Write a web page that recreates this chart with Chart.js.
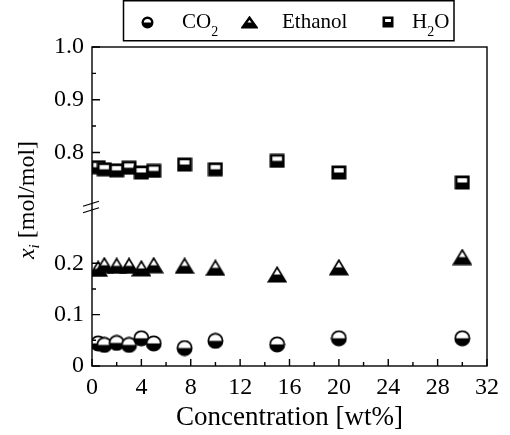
<!DOCTYPE html>
<html lang="en">
<head>
    <meta charset="UTF-8">
    <title>Mole fractions vs concentration</title>
    <script src="https://cdn.jsdelivr.net/npm/chart.js"></script>
    <style>
        body { margin: 0; background: #fff; }
        #chart { display: block; }
    </style>
</head>
<body>
<canvas id="chart" width="510" height="435"></canvas>
<script>
    // values
    const concentration = [0.5, 1, 2, 3, 4, 5, 7.5, 10, 15, 20, 30];
    const co2 = [0.044, 0.041, 0.045, 0.041, 0.054, 0.044, 0.035, 0.049, 0.042, 0.054, 0.054];
    const ethanol = [0.189, 0.196, 0.195, 0.195, 0.190, 0.196, 0.195, 0.191, 0.178, 0.192, 0.212];
    const water = [0.772, 0.768, 0.766, 0.771, 0.762, 0.765, 0.777, 0.768, 0.784, 0.762, 0.743];

    const xTicks = [0, 4, 8, 12, 16, 20, 24, 28, 32];
    const xMinor = [2, 6, 10, 14, 18, 22, 26, 30];
    const yLowTicks = [0, 0.1, 0.2];
    const yLowLabels = ['0', '0.1', '0.2'];
    const yLowMinor = [0.05, 0.15];
    const yHighTicks = [0.8, 0.9, 1.0];
    const yHighLabels = ['0.8', '0.9', '1.0'];
    const yHighMinor = [0.85, 0.95];

    const serif = '"Liberation Serif", "Times New Roman", serif';

    // half filled markers (white top, black bottom)
    function makeMarker(kind, w, h, lw) {
        const c = document.createElement('canvas');
        c.width = w;
        c.height = h;
        const g = c.getContext('2d');
        const m = lw / 2 + 0.5;
        g.beginPath();
        if (kind === 'circle') {
            g.arc(w / 2, h / 2, Math.min(w, h) / 2 - m, 0, Math.PI * 2);
        } else if (kind === 'triangle') {
            g.moveTo(w / 2, m);
            g.lineTo(w - m, h - m);
            g.lineTo(m, h - m);
            g.closePath();
        } else {
            g.rect(m, m, w - 2 * m, h - 2 * m);
        }
        g.fillStyle = '#fff';
        g.fill();
        g.save();
        g.clip();
        g.fillStyle = '#000';
        g.fillRect(0, h / 2, w, h / 2);
        g.restore();
        g.lineWidth = lw;
        g.lineJoin = 'miter';
        g.strokeStyle = '#000';
        g.stroke();
        return c;
    }

    const circleImg = makeMarker('circle', 17, 17, 1.8);
    const triangleImg = makeMarker('triangle', 20, 17, 1.8);
    const squareImg = makeMarker('square', 16, 15, 2.7);

    const legendItems = [
        { img: makeMarker('circle', 13, 13, 2.4), cx: 147, text: 'CO', sub: '2', after: '', tx: 182 },
        { img: makeMarker('triangle', 17, 13, 2.4), cx: 249, text: 'Ethanol', sub: '', after: '', tx: 282 },
        { img: makeMarker('square', 12, 12, 2.6), cx: 388, text: 'H', sub: '2', after: 'O', tx: 412 }
    ];

    const framePlugin = {
        id: 'frame',
        afterDraw(chart) {
            const ctx = chart.ctx;
            const a = chart.chartArea;
            const sx = chart.scales.x, yl = chart.scales.yBot, yh = chart.scales.yTop;
            ctx.save();
            ctx.strokeStyle = '#000';
            ctx.lineWidth = 1.4;
            ctx.strokeRect(a.left, a.top, a.right - a.left, a.bottom - a.top);

            // inward ticks
            ctx.beginPath();
            xTicks.forEach(v => { const p = sx.getPixelForValue(v); ctx.moveTo(p, a.bottom); ctx.lineTo(p, a.bottom - 7); });
            xMinor.forEach(v => { const p = sx.getPixelForValue(v); ctx.moveTo(p, a.bottom); ctx.lineTo(p, a.bottom - 4); });
            yLowTicks.forEach(v => { const p = yl.getPixelForValue(v); ctx.moveTo(a.left, p); ctx.lineTo(a.left + 8, p); });
            yLowMinor.forEach(v => { const p = yl.getPixelForValue(v); ctx.moveTo(a.left, p); ctx.lineTo(a.left + 4, p); });
            yHighTicks.forEach(v => { const p = yh.getPixelForValue(v); ctx.moveTo(a.left, p); ctx.lineTo(a.left + 8, p); });
            yHighMinor.forEach(v => { const p = yh.getPixelForValue(v); ctx.moveTo(a.left, p); ctx.lineTo(a.left + 4, p); });
            ctx.stroke();

            // axis break marks
            const b = yh.bottom;
            ctx.lineWidth = 1.3;
            ctx.beginPath();
            ctx.moveTo(a.left - 9, b - 1);
            ctx.lineTo(a.left + 7, b - 6);
            ctx.moveTo(a.left - 9, b + 5.5);
            ctx.lineTo(a.left + 7, b + 0.5);
            ctx.stroke();

            // y title: x_i [mol/mol]
            ctx.fillStyle = '#000';
            ctx.textBaseline = 'alphabetic';
            ctx.translate(34, 200);
            ctx.rotate(-Math.PI / 2);
            const fMain = 'italic 24px ' + serif, fSub = 'italic 15px ' + serif, fRest = '24px ' + serif;
            ctx.font = fMain; const wx = ctx.measureText('x').width;
            ctx.font = fSub; const wi = ctx.measureText('i').width;
            ctx.font = fRest; const wr = ctx.measureText(' [mol/mol]').width;
            let s = -(wx + wi + wr) / 2;
            ctx.font = fMain; ctx.fillText('x', s, 0);
            ctx.font = fSub; ctx.fillText('i', s + wx, 5);
            ctx.font = fRest; ctx.fillText(' [mol/mol]', s + wx + wi, 0);
            ctx.restore();

            // legend box
            ctx.save();
            ctx.strokeStyle = '#000';
            ctx.lineWidth = 1.5;
            ctx.strokeRect(123.5, 0.75, 330.5, 40);
            ctx.fillStyle = '#000';
            ctx.textBaseline = 'alphabetic';
            legendItems.forEach(it => {
                ctx.drawImage(it.img, Math.round(it.cx - it.img.width / 2), Math.round(22 - it.img.height / 2));
                ctx.font = '21px ' + serif;
                ctx.fillText(it.text, it.tx, 28);
                let x = it.tx + ctx.measureText(it.text).width;
                if (it.sub) {
                    ctx.font = '14px ' + serif;
                    ctx.fillText(it.sub, x, 36);
                    x += ctx.measureText(it.sub).width;
                }
                if (it.after) {
                    ctx.font = '21px ' + serif;
                    ctx.fillText(it.after, x, 28);
                }
            });
            ctx.restore();
        }
    };

    const tickFont = { family: serif, size: 24 };

    new Chart(document.getElementById('chart'), {
        type: 'scatter',
        data: {
            datasets: [
                {
                    label: 'CO2',
                    data: concentration.map((c, i) => ({ x: c, y: co2[i] })),
                    yAxisID: 'yBot',
                    pointStyle: circleImg,
                    pointRadius: 8
                },
                {
                    label: 'Ethanol',
                    data: concentration.map((c, i) => ({ x: c, y: ethanol[i] })),
                    yAxisID: 'yBot',
                    pointStyle: triangleImg,
                    pointRadius: 8
                },
                {
                    label: 'H2O',
                    data: concentration.map((c, i) => ({ x: c, y: water[i] })),
                    yAxisID: 'yTop',
                    pointStyle: squareImg,
                    pointRadius: 8
                }
            ]
        },
        options: {
            responsive: false,
            animation: false,
            clip: 0,
            layout: { padding: { top: 47, right: 23, left: 0, bottom: 0 } },
            plugins: { legend: { display: false }, tooltip: { enabled: false } },
            scales: {
                x: {
                    type: 'linear',
                    min: 0,
                    max: 32,
                    afterBuildTicks: s => { s.ticks = xTicks.map(v => ({ value: v })); },
                    afterFit: s => { s.height = 69; },
                    grid: { display: false, drawTicks: false },
                    border: { display: false },
                    ticks: { font: tickFont, color: '#000', padding: 7, maxRotation: 0 },
                    title: {
                        display: true,
                        text: 'Concentration [wt%]',
                        color: '#000',
                        font: { family: serif, size: 27 },
                        padding: { top: 0, bottom: 1 }
                    }
                },
                yBot: {
                    type: 'linear',
                    position: 'left',
                    stack: 'y',
                    stackWeight: 158.5,
                    min: 0,
                    max: 0.309,
                    afterBuildTicks: s => { s.ticks = yLowTicks.map(v => ({ value: v })); },
                    afterFit: s => { s.width = 92; },
                    grid: { display: false, drawTicks: false },
                    border: { display: false },
                    ticks: { font: tickFont, color: '#000', padding: 8, callback: (v, i) => yLowLabels[i] }
                },
                yTop: {
                    type: 'linear',
                    position: 'left',
                    stack: 'y',
                    stackWeight: 160,
                    min: 0.696,
                    max: 1.0,
                    afterBuildTicks: s => { s.ticks = yHighTicks.map(v => ({ value: v })); },
                    afterFit: s => { s.width = 92; },
                    grid: { display: false, drawTicks: false },
                    border: { display: false },
                    ticks: { font: tickFont, color: '#000', padding: 8, callback: (v, i) => yHighLabels[i] }
                }
            }
        },
        plugins: [framePlugin]
    });
</script>
</body>
</html>
